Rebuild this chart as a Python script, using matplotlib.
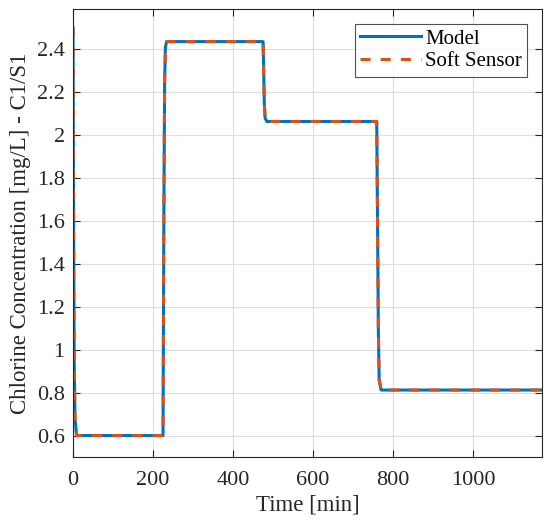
import matplotlib
matplotlib.use("Agg")
from matplotlib import pyplot as plt

# time [min] and chlorine values
time_model = [0, 1.5, 3, 5, 9, 225, 227, 229, 231, 234, 475, 476.5, 478, 480, 484,
              759, 761, 763, 765, 770, 1172]
conc_model = [2.5, 1.6, 0.95, 0.68, 0.6, 0.6, 1.6, 2.25, 2.41, 2.435, 2.435, 2.3, 2.15, 2.08, 2.063,
              2.063, 1.6, 1.1, 0.86, 0.812, 0.812]
time_soft = [0, 1.5, 3, 5, 9, 225, 227, 229, 231, 234, 475, 476.5, 478, 480, 484,
             759, 761, 763, 765, 770, 1172]
conc_soft = [2.5, 1.6, 0.95, 0.68, 0.6, 0.6, 1.6, 2.25, 2.41, 2.435, 2.435, 2.3, 2.15, 2.08, 2.063,
             2.063, 1.6, 1.1, 0.86, 0.812, 0.812]

x_ticks = [0, 200, 400, 600, 800, 1000]
y_ticks = [0.6, 0.8, 1.0, 1.2, 1.4, 1.6, 1.8, 2.0, 2.2, 2.4]
y_labels = ["0.6", "0.8", "1", "1.2", "1.4", "1.6", "1.8", "2", "2.2", "2.4"]

plt.rcParams['font.family'] = ['Liberation Serif', 'DejaVu Serif']

fig = plt.figure(figsize=(5.5, 5.25), dpi=100)
ax = fig.add_axes([0.1327, 0.1295, 0.8528, 0.8534])

ax.plot(time_model, conc_model, color='#0072BD', lw=2.2, label='Model')
ax.plot(time_soft, conc_soft, color='#D95319', lw=2.2, linestyle=(0, (3.3, 3.3)),
        label='Soft Sensor')

ax.set_xlim(0, 1172)
ax.set_ylim(0.5, 2.587)
ax.set_xticks(x_ticks)
ax.set_yticks(y_ticks)
ax.set_yticklabels(y_labels)
ax.grid(True, color='#dedede', lw=0.8)
ax.set_axisbelow(True)

ax.tick_params(direction='in', length=5, width=0.8, top=True, right=True,
               labelsize=16, colors='#262626')
ax.tick_params(axis='x', pad=10)
ax.tick_params(axis='y', pad=6)
for s in ax.spines.values():
    s.set_color('#262626')
    s.set_linewidth(0.8)

ax.set_xlabel('Time [min]', fontsize=16.5, color='#262626', labelpad=3)
ax.set_ylabel('Chlorine Concentration [mg/L] - C1/S1', fontsize=16.5, color='#262626', labelpad=4)

leg = ax.legend(loc='upper right', fontsize=15, frameon=True, fancybox=False,
                edgecolor='#262626', handlelength=2.9, handletextpad=0.2,
                borderpad=0.25, labelspacing=0.15, borderaxespad=0.72)
leg.get_frame().set_linewidth(0.8)

fig.savefig('out.png', dpi=100)
